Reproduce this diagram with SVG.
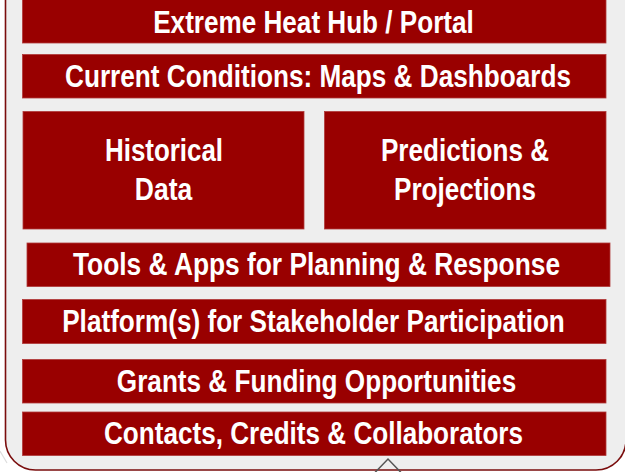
<svg xmlns="http://www.w3.org/2000/svg" width="625" height="472" viewBox="0 0 625 472">
  <style>
    .box { fill: #990000; stroke: #b03a3a; stroke-width: 0.8; }
    .lbl { fill: #ffffff; font-family: "Liberation Sans Narrow", "Liberation Sans", Arial, sans-serif; font-weight: bold; font-size: 31px; text-anchor: middle; }
  </style>
  <rect x="0" y="0" width="625" height="472" fill="#ffffff"/>
  <line x1="0" y1="451" x2="7" y2="463" stroke="#dddddd" stroke-width="1.2"/>
  <rect x="5.5" y="-40" width="620.5" height="510" rx="30" ry="30" fill="#eeeeee" stroke="#7a0d0d" stroke-width="1.6"/>
  <polyline points="375,472.5 388,459 401,472.5" fill="none" stroke="#555555" stroke-width="1.5"/>
  <g id="n1"><rect class="box" x="22.5" y="-1" width="583.5" height="44"/><text class="lbl" transform="translate(313.5,32.5) scale(0.82,1)" textLength="391" lengthAdjust="spacingAndGlyphs">Extreme Heat Hub / Portal</text></g>
  <g id="n2"><rect class="box" x="22.5" y="54.5" width="583.5" height="43.5"/><text class="lbl" transform="translate(318,86.5) scale(0.82,1)" textLength="617" lengthAdjust="spacingAndGlyphs">Current Conditions: Maps &amp; Dashboards</text></g>
  <g id="n3"><rect class="box" x="23" y="111.5" width="281" height="117.5"/><text class="lbl" transform="translate(164,161) scale(0.82,1)" textLength="144" lengthAdjust="spacingAndGlyphs">Historical</text><text class="lbl" transform="translate(163.5,200) scale(0.82,1)" textLength="70" lengthAdjust="spacingAndGlyphs">Data</text></g>
  <g id="n4"><rect class="box" x="324.5" y="111.5" width="281.5" height="117.5"/><text class="lbl" transform="translate(465,161) scale(0.82,1)" textLength="205" lengthAdjust="spacingAndGlyphs">Predictions &amp;</text><text class="lbl" transform="translate(465,200) scale(0.82,1)" textLength="173" lengthAdjust="spacingAndGlyphs">Projections</text></g>
  <g id="n5"><rect class="box" x="27" y="243" width="583" height="43.5"/><text class="lbl" transform="translate(316.5,275) scale(0.82,1)" textLength="594" lengthAdjust="spacingAndGlyphs">Tools &amp; Apps for Planning &amp; Response</text></g>
  <g id="n6"><rect class="box" x="22.5" y="299.5" width="583.5" height="44"/><text class="lbl" transform="translate(313.5,332) scale(0.82,1)" textLength="613" lengthAdjust="spacingAndGlyphs">Platform(s) for Stakeholder Participation</text></g>
  <g id="n7"><rect class="box" x="22.5" y="359.5" width="583.5" height="43.5"/><text class="lbl" transform="translate(316.5,391.5) scale(0.82,1)" textLength="487" lengthAdjust="spacingAndGlyphs">Grants &amp; Funding Opportunities</text></g>
  <g id="n8"><rect class="box" x="22.5" y="412" width="583.5" height="43.5"/><text class="lbl" transform="translate(313.5,444) scale(0.82,1)" textLength="511" lengthAdjust="spacingAndGlyphs">Contacts, Credits &amp; Collaborators</text></g>
  <g id="connectors"></g>
</svg>
